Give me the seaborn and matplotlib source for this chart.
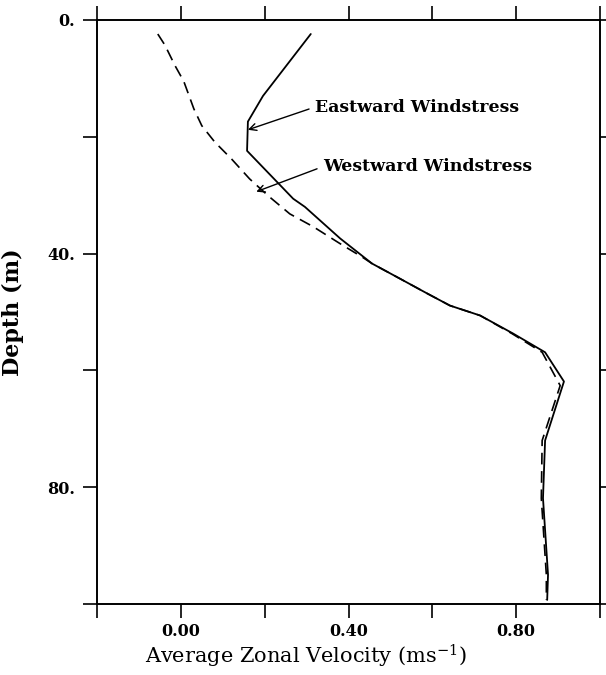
import matplotlib
matplotlib.use("Agg")
import matplotlib.pyplot as plt
import seaborn as sns
import pandas as pd

# Velocity profiles (m/s) versus depth (m)
east_depth = [2.4, 13.0, 17.4, 22.4, 30.6, 32.0, 37.4, 41.7, 44.3, 46.8, 48.9,
              50.6, 53.7, 56.9, 61.9, 72.0, 81.9, 95.0, 99.3]
east_vel = [0.31, 0.196, 0.16, 0.158, 0.268, 0.296, 0.38, 0.456, 0.523, 0.587,
            0.642, 0.714, 0.793, 0.869, 0.914, 0.869, 0.864, 0.876, 0.874]

west_depth = [2.4, 4.3, 7.8, 10.5, 15.2, 18.1, 20.9, 23.8, 27.2, 30.2, 33.2,
              35.4, 38.3, 40.7, 41.7, 44.3, 46.8, 48.9, 50.6, 53.7, 56.9, 62.6,
              72.0, 81.9, 95.0, 99.3]
west_vel = [-0.055, -0.038, -0.014, 0.007, 0.031, 0.05, 0.081, 0.121, 0.164,
            0.21, 0.26, 0.316, 0.38, 0.435, 0.456, 0.523, 0.587, 0.642, 0.714,
            0.79, 0.862, 0.905, 0.862, 0.86, 0.872, 0.872]

x_ticks = [-0.2, 0.0, 0.2, 0.4, 0.6, 0.8, 1.0]
x_tick_labels = ["", "0.00", "", "0.40", "", "0.80", ""]
y_ticks = [0, 20, 40, 60, 80, 100]
y_tick_labels = ["0.", "", "40.", "", "80.", ""]

sns.set_theme(style="ticks")
plt.rcParams["font.family"] = ["DejaVu Serif"]
plt.rcParams["mathtext.default"] = "regular"
plt.rcParams["text.color"] = "black"
plt.rcParams["axes.labelcolor"] = "black"
plt.rcParams["xtick.color"] = "black"
plt.rcParams["ytick.color"] = "black"

fig = plt.figure(figsize=(6.06, 6.75), dpi=100)
ax = fig.add_axes([97 / 606, 1 - 604 / 675, 503 / 606, 584 / 675])

east = pd.DataFrame({"vel": east_vel, "depth": east_depth})
west = pd.DataFrame({"vel": west_vel, "depth": west_depth})

sns.lineplot(data=east, x="vel", y="depth", sort=False, estimator=None,
             color="black", lw=1.3, ax=ax)
sns.lineplot(data=west, x="vel", y="depth", sort=False, estimator=None,
             color="black", lw=1.2, ax=ax, linestyle=(0, (7, 4)))

ax.set_xlim(-0.2, 1.0)
ax.set_ylim(100, 0)
ax.set_xticks(x_ticks)
ax.set_xticklabels(x_tick_labels, fontsize=11.5, fontweight="bold")
ax.set_yticks(y_ticks)
ax.set_yticklabels(y_tick_labels, fontsize=11.5, fontweight="bold")
ax.tick_params(direction="out", length=10, width=1.2, top=True, right=True,
               colors="black", pad=6)
ax.tick_params(axis="x", pad=4)

for s in ax.spines.values():
    s.set_visible(True)
    s.set_linewidth(1.4)
    s.set_color("black")

ax.set_xlabel("Average Zonal Velocity (ms$^{-1}$)", fontsize=15)
ax.xaxis.set_label_coords(0.415, -0.066)
ax.set_ylabel("Depth (m)", fontsize=16, fontweight="bold")
ax.yaxis.set_label_coords(-0.145, 0.5)

arrow = dict(arrowstyle="->", color="black", lw=1.0, shrinkA=2, shrinkB=0,
             relpos=(0, 0.5))
ax.annotate("Eastward Windstress", xy=(0.16, 18.8), xytext=(0.32, 14.9),
            ha="left", va="center", fontsize=12.5, fontweight="bold",
            arrowprops=arrow)
ax.annotate("Westward Windstress", xy=(0.18, 29.4), xytext=(0.339, 25.1),
            ha="left", va="center", fontsize=12.5, fontweight="bold",
            arrowprops=arrow)

fig.savefig("out.png", dpi=100, facecolor="white")
